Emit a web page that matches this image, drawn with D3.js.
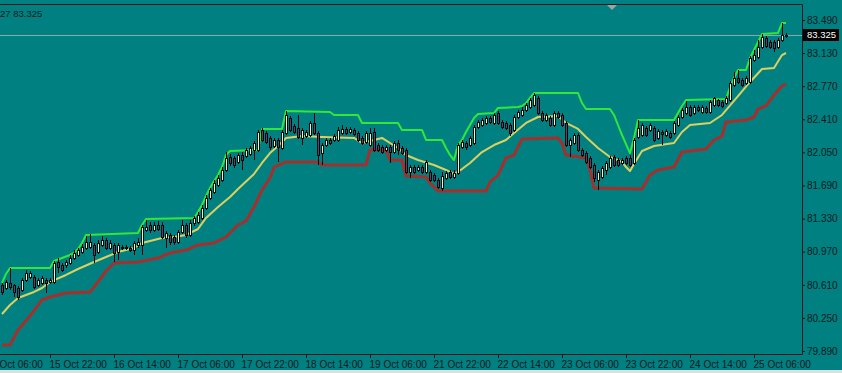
<!DOCTYPE html>
<html>
<head>
<meta charset="utf-8">
<script src="https://cdn.jsdelivr.net/npm/d3@7"></script>
<style>
  html, body { margin: 0; padding: 0; background: #008080; }
  svg { display: block; }
  text { font-family: "Liberation Sans", Arial, sans-serif; }
</style>
</head>
<body>
<svg id="chart" width="842" height="373"></svg>
<script>
// bottom time labels, one every 16 H1 bars
const timeLabels = [
  '15 Oct 06:00', '15 Oct 22:00', '16 Oct 14:00', '17 Oct 06:00', '17 Oct 22:00',
  '18 Oct 14:00', '19 Oct 06:00', '21 Oct 22:00', '22 Oct 14:00', '23 Oct 06:00',
  '23 Oct 22:00', '24 Oct 14:00', '25 Oct 06:00'
];

const priceTicks = [83.490, 83.130, 82.770, 82.410, 82.050, 81.690, 81.330, 80.970, 80.610, 80.250, 79.890];

const lastPrice = 83.325;
const headerText = '27 83.325';

// first visible bar (bar 0 = 15 Oct 06:00)
const firstBar = 4;

// [open, high, low, close]
const candles = [
  [80.608,80.630,80.499,80.532],[80.575,80.662,80.553,80.641],[80.630,80.793,80.553,80.586],[80.608,80.619,80.477,80.532],
  [80.575,80.597,80.445,80.477],[80.553,80.684,80.532,80.662],[80.662,80.771,80.641,80.738],[80.695,80.760,80.673,80.738],
  [80.695,80.717,80.564,80.586],[80.608,80.684,80.586,80.662],[80.630,80.706,80.608,80.684],[80.662,80.684,80.521,80.630],
  [80.641,80.684,80.619,80.662],[80.641,80.869,80.619,80.847],[80.858,80.901,80.738,80.803],[80.825,80.847,80.749,80.771],
  [80.825,80.880,80.793,80.858],[80.847,80.934,80.825,80.901],[80.901,80.988,80.880,80.956],[80.934,81.010,80.912,80.988],
  [80.967,81.054,80.945,81.021],[81.010,81.141,80.988,81.076],[81.021,81.163,80.999,81.076],[81.043,81.065,80.847,80.934],
  [80.967,81.097,80.945,81.065],[81.043,81.141,81.021,81.097],[81.097,81.119,80.988,81.010],[81.010,81.097,80.988,81.065],
  [81.043,81.065,80.858,80.956],[80.967,81.065,80.880,81.043],[81.021,81.043,80.988,81.010],[81.010,81.043,80.988,81.021],
  [81.010,81.032,80.967,80.988],[80.988,81.086,80.934,81.065],[81.043,81.119,81.010,81.076],[81.043,81.260,80.934,81.239],
  [81.206,81.315,81.184,81.239],[81.260,81.293,81.173,81.206],[81.206,81.293,81.184,81.260],[81.260,81.304,81.195,81.217],
  [81.260,81.293,81.108,81.130],[81.119,81.195,81.010,81.173],[81.152,81.173,81.043,81.076],[81.130,81.152,81.043,81.076],
  [81.076,81.206,81.054,81.184],[81.184,81.315,81.163,81.260],[81.260,81.282,81.119,81.152],[81.152,81.315,81.130,81.282],
  [81.282,81.358,81.250,81.337],[81.293,81.402,81.271,81.369],[81.337,81.478,81.315,81.445],[81.445,81.587,81.423,81.554],
  [81.554,81.663,81.532,81.641],[81.619,81.750,81.598,81.717],[81.696,81.804,81.674,81.772],[81.750,81.891,81.728,81.859],
  [81.859,82.054,81.837,81.989],[82.000,82.033,81.902,81.935],[81.989,82.011,81.880,81.913],[81.946,82.043,81.924,82.022],
  [82.022,82.054,81.859,81.967],[82.011,82.098,81.989,82.076],[82.033,82.120,82.011,82.098],[82.076,82.174,81.967,82.152],
  [82.076,82.294,82.054,82.272],[82.294,82.316,82.163,82.185],[82.261,82.283,82.141,82.163],[82.207,82.228,82.076,82.109],
  [82.120,82.207,82.098,82.185],[82.185,82.207,81.946,82.109],[82.098,82.294,82.076,82.272],[82.261,82.500,82.239,82.457],
  [82.424,82.446,82.272,82.294],[82.337,82.359,82.250,82.272],[82.316,82.457,82.196,82.217],[82.207,82.316,82.130,82.294],
  [82.228,82.294,82.207,82.272],[82.239,82.392,82.217,82.370],[82.370,82.478,82.239,82.261],[82.261,82.283,81.913,82.022],
  [82.043,82.152,81.913,82.130],[82.130,82.207,82.109,82.185],[82.185,82.207,82.130,82.152],[82.185,82.250,82.163,82.228],
  [82.185,82.326,82.163,82.294],[82.261,82.348,82.239,82.305],[82.305,82.326,82.239,82.261],[82.272,82.326,82.250,82.305],
  [82.294,82.316,82.228,82.250],[82.261,82.283,82.163,82.185],[82.207,82.228,82.130,82.152],[82.163,82.283,82.141,82.261],
  [82.130,82.316,82.109,82.261],[82.272,82.316,82.054,82.076],[82.130,82.152,82.054,82.076],[82.109,82.130,82.033,82.054],
  [82.076,82.130,82.054,82.109],[82.109,82.130,81.935,82.054],[82.054,82.174,82.033,82.152],[82.152,82.185,82.022,82.076],
  [82.098,82.120,82.022,82.043],[82.076,82.098,81.815,81.837],[81.837,81.913,81.772,81.891],[81.891,81.913,81.815,81.837],
  [81.859,81.913,81.837,81.891],[81.891,81.913,81.815,81.837],[81.837,81.967,81.815,81.946],[81.837,81.859,81.728,81.750],
  [81.804,81.826,81.728,81.750],[81.750,81.772,81.652,81.674],[81.663,81.837,81.630,81.793],[81.772,81.848,81.750,81.826],
  [81.837,81.859,81.761,81.782],[81.782,81.859,81.761,81.826],[81.826,82.152,81.804,82.130],[82.109,82.185,82.087,82.163],
  [82.152,82.174,82.076,82.109],[82.130,82.228,82.109,82.207],[82.152,82.348,82.130,82.326],[82.326,82.402,82.305,82.381],
  [82.348,82.424,82.326,82.402],[82.370,82.446,82.348,82.424],[82.424,82.446,82.359,82.381],[82.370,82.478,82.348,82.457],
  [82.478,82.500,82.348,82.370],[82.381,82.402,82.305,82.326],[82.370,82.392,82.294,82.316],[82.348,82.370,82.228,82.261],
  [82.294,82.457,82.272,82.435],[82.435,82.511,82.413,82.489],[82.457,82.544,82.435,82.511],[82.511,82.587,82.489,82.566],
  [82.544,82.642,82.522,82.620],[82.566,82.696,82.544,82.674],[82.642,82.663,82.457,82.478],[82.478,82.500,82.381,82.402],
  [82.402,82.478,82.381,82.457],[82.424,82.446,82.326,82.348],[82.348,82.500,82.326,82.478],[82.478,82.500,82.413,82.435],
  [82.457,82.478,82.326,82.348],[82.370,82.392,82.109,82.130],[82.130,82.207,82.000,82.185],[82.152,82.261,82.130,82.239],
  [82.239,82.261,82.054,82.076],[82.076,82.098,82.000,82.022],[82.043,82.065,81.924,81.946],[81.989,82.011,81.869,81.891],
  [81.913,81.935,81.728,81.772],[81.750,81.859,81.641,81.837],[81.782,81.902,81.761,81.880],[81.859,81.956,81.804,81.935],
  [81.891,82.011,81.869,81.989],[82.000,82.022,81.891,81.913],[81.967,81.989,81.891,81.913],[81.935,81.989,81.913,81.967],
  [81.989,82.011,81.913,81.935],[81.989,82.022,81.891,81.913],[81.935,82.207,81.913,82.185],[82.217,82.402,82.196,82.316],
  [82.239,82.370,82.217,82.348],[82.316,82.337,82.217,82.239],[82.294,82.370,82.272,82.348],[82.316,82.337,82.163,82.185],
  [82.207,82.305,82.185,82.283],[82.272,82.294,82.130,82.250],[82.239,82.305,82.217,82.283],[82.261,82.283,82.196,82.217],
  [82.261,82.392,82.239,82.370],[82.348,82.457,82.326,82.435],[82.435,82.533,82.413,82.511],[82.478,82.609,82.457,82.544],
  [82.544,82.566,82.435,82.457],[82.478,82.566,82.457,82.544],[82.544,82.566,82.489,82.511],[82.489,82.566,82.468,82.544],
  [82.533,82.555,82.468,82.489],[82.489,82.620,82.468,82.598],[82.566,82.652,82.544,82.642],[82.620,82.631,82.544,82.566],
  [82.598,82.620,82.533,82.555],[82.587,82.663,82.566,82.642],[82.620,82.826,82.598,82.805],[82.783,82.924,82.761,82.859],
  [82.859,82.946,82.794,82.816],[82.837,82.859,82.761,82.783],[82.805,82.881,82.783,82.859],[82.816,83.098,82.794,83.077],
  [83.055,83.164,83.033,83.109],[83.088,83.272,83.066,83.196],[83.196,83.338,83.175,83.305],[83.294,83.316,83.185,83.207],
  [83.251,83.272,83.175,83.196],[83.251,83.272,83.142,83.185],[83.196,83.294,83.175,83.272],[83.272,83.457,83.251,83.327],
  [83.316,83.349,83.294,83.325]
];

// channel lines as [bar, price]
const upperBand = [
  [4,80.630],[5,80.728],[6,80.793],[16,80.793],[17,80.869],[21,80.934],[22,80.956],[23,80.999],[24,81.065],[25,81.152],
  [38,81.173],[39,81.260],[40,81.326],[52,81.337],[53,81.402],[54,81.478],[55,81.576],[56,81.663],[57,81.739],[58,81.804],
  [59,81.891],[60,82.022],[61,82.065],[68,82.076],[69,82.305],[74,82.305],[75,82.500],[86,82.489],[87,82.457],[93,82.457],
  [94,82.370],[103,82.370],[104,82.294],[109,82.294],[110,82.185],[114,82.185],[115,82.098],[116,82.022],[117,81.967],
  [118,82.130],[119,82.185],[120,82.272],[121,82.348],[122,82.424],[123,82.468],[127,82.478],[128,82.533],[133,82.544],
  [134,82.555],[135,82.587],[136,82.642],[137,82.696],[148,82.696],[149,82.587],[150,82.522],[156,82.522],[157,82.457],
  [158,82.348],[159,82.239],[160,82.141],[161,82.043],[162,82.207],[163,82.402],[172,82.402],[173,82.478],[174,82.555],
  [175,82.620],[185,82.631],[186,82.761],[187,82.859],[188,82.946],[190,82.946],[191,83.077],[192,83.164],[193,83.251],
  [194,83.338],[198,83.349],[199,83.457],[200,83.457]
];

const middleBand = [
  [4,80.292],[6,80.390],[8,80.466],[12,80.532],[14,80.575],[16,80.641],[20,80.717],[23,80.782],[27,80.858],[30,80.912],
  [33,80.967],[37,81.010],[39,81.065],[44,81.119],[47,81.130],[50,81.152],[53,81.217],[55,81.337],[58,81.456],[61,81.565],
  [63,81.652],[67,81.815],[69,81.935],[71,82.043],[73,82.120],[75,82.207],[79,82.228],[84,82.217],[92,82.207],[94,82.152],
  [96,82.174],[99,82.207],[101,82.152],[103,82.098],[105,82.022],[108,81.967],[112,81.913],[115,81.859],[117,81.815],
  [119,81.869],[121,81.935],[124,82.054],[127,82.130],[130,82.185],[132,82.261],[135,82.370],[138,82.435],[143,82.446],
  [145,82.370],[148,82.305],[150,82.217],[153,82.098],[156,82.000],[159,81.946],[160,81.891],[161,81.848],[162,81.924],
  [164,82.065],[167,82.120],[172,82.152],[174,82.272],[176,82.348],[181,82.370],[184,82.457],[188,82.663],[191,82.816],
  [194,82.957],[197,82.968],[199,83.109],[200,83.131]
];

const lowerBand = [
  [4,79.955],[6,79.955],[8,80.118],[11,80.271],[14,80.445],[16,80.477],[20,80.521],[26,80.532],[28,80.641],[30,80.760],
  [32,80.847],[38,80.858],[43,80.901],[46,80.956],[50,80.988],[53,81.043],[57,81.065],[60,81.130],[63,81.260],[65,81.304],
  [67,81.456],[69,81.641],[71,81.772],[72,81.891],[75,81.946],[83,81.946],[84,81.913],[95,81.913],[96,82.076],[100,82.076],
  [101,81.967],[104,81.967],[105,81.793],[110,81.782],[111,81.717],[113,81.630],[125,81.630],[126,81.728],[128,81.804],
  [130,81.989],[132,82.022],[134,82.196],[143,82.207],[144,82.152],[145,82.022],[150,81.989],[151,81.859],[152,81.663],
  [164,81.652],[166,81.804],[168,81.859],[172,81.891],[174,82.054],[180,82.087],[182,82.185],[184,82.228],[185,82.381],
  [190,82.402],[192,82.435],[193,82.522],[195,82.555],[197,82.674],[199,82.772],[200,82.794]
];

const colors = {
  bg: '#008080',
  frame: '#0c1c22',
  text: '#0a1a1e',
  upper: '#2fe83a',
  middle: '#dcd05e',
  lower: '#a4302e',
  bull: '#eef2c2',
  bear: '#6e3a62',
  wick: '#050a0a',
  priceLine: '#8aa8a6'
};

const plot = { left: 0, right: 802, top: 5, bottom: 354 };

const x = d3.scaleLinear().domain([0, 200]).range([-14, 786]);
const y = d3.scaleLinear().domain([79.89, 83.49]).range([351, 20]);

const svg = d3.select('#chart');

svg.append('rect')
  .attr('width', 842).attr('height', 373)
  .attr('fill', colors.bg);

// thin light strip at the very bottom (window edge)
svg.append('rect')
  .attr('x', 0).attr('y', 370).attr('width', 842).attr('height', 3)
  .attr('fill', '#d6e2e1');

svg.append('clipPath').attr('id', 'plot-clip')
  .append('rect')
  .attr('x', plot.left).attr('y', plot.top)
  .attr('width', plot.right - plot.left).attr('height', plot.bottom - plot.top);

// current price line
svg.append('line')
  .attr('x1', plot.left).attr('x2', plot.right)
  .attr('y1', Math.round(y(lastPrice)) + 0.5).attr('y2', Math.round(y(lastPrice)) + 0.5)
  .attr('stroke', colors.priceLine).attr('stroke-width', 1);

const $plot = svg.append('g').attr('clip-path', 'url(#plot-clip)');

const line = d3.line()
  .x(d => x(d[0]))
  .y(d => y(d[1]));

[[lowerBand, colors.lower, 3], [middleBand, colors.middle, 2], [upperBand, colors.upper, 2]]
  .forEach(([data, color, w]) => {
    $plot.append('path')
      .datum(data)
      .attr('d', line)
      .attr('fill', 'none')
      .attr('stroke', color)
      .attr('stroke-width', w)
      .attr('stroke-linejoin', 'round');
  });

// candles
const $candles = $plot.selectAll('.candle')
  .data(candles)
  .enter()
  .append('g')
  .classed('candle', true);

$candles.each(function(d, i) {
  const [o, h, l, c] = d;
  const cx = Math.round(x(firstBar + i));
  const g = d3.select(this);
  const top = Math.round(y(Math.max(o, c)));
  const bot = Math.max(top + 1, Math.round(y(Math.min(o, c))));

  g.append('rect')
    .attr('x', cx).attr('width', 1)
    .attr('y', Math.round(y(h)))
    .attr('height', Math.max(1, Math.round(y(l)) - Math.round(y(h))))
    .attr('fill', colors.wick);

  g.append('rect')
    .attr('x', cx - 1).attr('width', 3)
    .attr('y', top).attr('height', bot - top + 1)
    .attr('fill', colors.wick);

  if (bot - top > 1) {
    g.append('rect')
      .attr('x', cx).attr('width', 1)
      .attr('y', top + 1).attr('height', bot - top - 1)
      .attr('fill', c >= o ? colors.bull : colors.bear);
  }
});

// frame
svg.append('path')
  .attr('d', `M${plot.left},${plot.top - 0.5}H${plot.right + 0.5}V${plot.bottom + 0.5}H${plot.left}`)
  .attr('fill', 'none')
  .attr('stroke', colors.frame)
  .attr('stroke-width', 1);

// shift marker
svg.append('path')
  .attr('d', 'M607,5L617,5L612,10Z')
  .attr('fill', '#9aa6a6');

// time axis
const xAxis = d3.axisBottom(x)
  .tickValues(timeLabels.map((d, i) => i * 16))
  .tickFormat((d, i) => timeLabels[i])
  .tickSize(4)
  .tickPadding(3);

svg.append('g')
  .attr('transform', `translate(0,${plot.bottom})`)
  .attr('font-size', 9.5)
  .attr('font-family', '"Liberation Sans", Arial, sans-serif')
  .style('color', colors.frame)
  .call(xAxis)
  .call(g => g.select('.domain').remove())
  .call(g => g.selectAll('text')
    .attr('text-anchor', 'start')
    .attr('dx', -1)
    .attr('fill', colors.text));

// price axis
const yAxis = d3.axisRight(y)
  .tickValues(priceTicks)
  .tickFormat(d3.format('.3f'))
  .tickSize(3)
  .tickPadding(2);

svg.append('g')
  .attr('transform', `translate(${plot.right},0)`)
  .attr('font-size', 9.5)
  .attr('font-family', '"Liberation Sans", Arial, sans-serif')
  .style('color', colors.frame)
  .call(yAxis)
  .call(g => g.select('.domain').remove())
  .call(g => g.selectAll('text').attr('fill', colors.text));

// last price tag
const py = y(lastPrice);
svg.append('rect')
  .attr('x', plot.right + 1).attr('y', Math.round(py) - 6)
  .attr('width', 36).attr('height', 12)
  .attr('fill', '#000');

svg.append('text')
  .attr('x', plot.right + 5).attr('y', py)
  .attr('dy', '0.34em')
  .attr('font-size', 9.5)
  .attr('fill', '#fff')
  .text(d3.format('.3f')(lastPrice));

// header text (cut at the left edge)
svg.append('text')
  .attr('x', 0).attr('y', 17)
  .attr('font-size', 9.5)
  .attr('fill', colors.text)
  .text(headerText);
</script>
</body>
</html>
